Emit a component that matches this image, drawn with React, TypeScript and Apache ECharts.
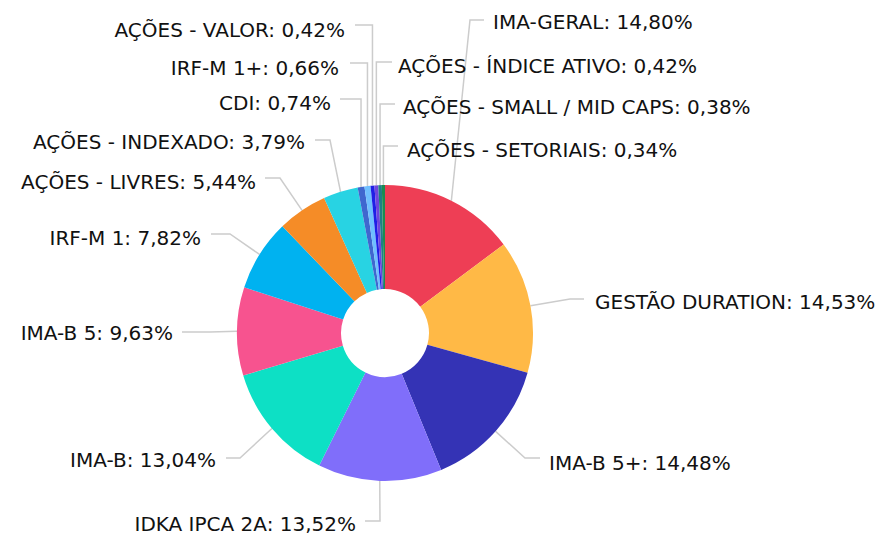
import React, { useEffect, useRef } from 'react';
import * as echarts from 'echarts';

const categories = [
  'IMA-GERAL',
  'GESTÃO DURATION',
  'IMA-B 5+',
  'IDKA IPCA 2A',
  'IMA-B',
  'IMA-B 5',
  'IRF-M 1',
  'AÇÕES - LIVRES',
  'AÇÕES - INDEXADO',
  'CDI',
  'IRF-M 1+',
  'AÇÕES - VALOR',
  'AÇÕES - ÍNDICE ATIVO',
  'AÇÕES - SMALL / MID CAPS',
  'AÇÕES - SETORIAIS',
];

const values = [14.8, 14.53, 14.48, 13.52, 13.04, 9.63, 7.82, 5.44, 3.79, 0.74, 0.66, 0.42, 0.42, 0.38, 0.34];

const colors = [
  '#EE3E55', '#FFB946', '#3433B5', '#806EFA', '#0DE0C5', '#F7538F', '#00B2F0',
  '#F58C27', '#28D3E3', '#3F67CF', '#6FBFFF', '#1F1FE6', '#6E45DD', '#1E7F86', '#1B8C50',
];

// label placement (layout only): side, elbow, line end, text anchor
const labelSpots: { side: 'left' | 'right'; ex: number | null; ey: number; lx: number; tx: number; ty: number }[] = [
  { side: 'right', ex: 470, ey: 20, lx: 484, tx: 493, ty: 22 },
  { side: 'right', ex: 570, ey: 299, lx: 584, tx: 595, ty: 302 },
  { side: 'right', ex: 525, ey: 458, lx: 540, tx: 549, ty: 463 },
  { side: 'left', ex: 380, ey: 521, lx: 365, tx: 356, ty: 524 },
  { side: 'left', ex: 240, ey: 458, lx: 226, tx: 216, ty: 460 },
  { side: 'left', ex: 210, ey: 332, lx: 182, tx: 173, ty: 333 },
  { side: 'left', ex: 230, ey: 234, lx: 211, tx: 201, ty: 238 },
  { side: 'left', ex: 280, ey: 178, lx: 265, tx: 256, ty: 182 },
  { side: 'left', ex: 330, ey: 140, lx: 315, tx: 305, ty: 142 },
  { side: 'left', ex: null, ey: 99, lx: 340, tx: 331, ty: 103 },
  { side: 'left', ex: null, ey: 63, lx: 350, tx: 339, ty: 68 },
  { side: 'left', ex: null, ey: 25, lx: 355, tx: 345, ty: 30 },
  { side: 'right', ex: null, ey: 62, lx: 392, tx: 398, ty: 66 },
  { side: 'right', ex: null, ey: 104, lx: 395, tx: 403, ty: 107 },
  { side: 'right', ex: null, ey: 146, lx: 398, tx: 407, ty: 150 },
];

const CX = 385;
const CY = 333;
const R_IN = 44;
const R_OUT = 148;

export default function App() {
  const ref = useRef<HTMLDivElement>(null);
  useEffect(() => {
    if (!ref.current) return;
    const chart = echarts.init(ref.current, undefined, { renderer: 'svg' });
    const total = values.reduce((a, b) => a + b, 0);
    const mids: number[] = [];
    let cum = 0;
    values.forEach((v) => {
      mids.push(((cum + v / 2) / total) * Math.PI * 2);
      cum += v;
    });
    chart.setOption({
      animation: false,
      backgroundColor: '#ffffff',
      series: [
        {
          type: 'pie',
          center: [CX, CY],
          radius: [R_IN, R_OUT],
          startAngle: 90,
          clockwise: true,
          avoidLabelOverlap: false,
          itemStyle: { borderWidth: 0 },
          data: categories.map((name, i) => ({
            name,
            value: values[i],
            itemStyle: { color: colors[i] },
          })),
          label: {
            show: true,
            position: 'outer',
            alignTo: 'none',
            fontFamily: 'DejaVu Sans',
            fontSize: 20,
            color: '#111111',
            formatter: (p: any) => `${p.name}: ${p.value.toFixed(2).replace('.', ',')}%`,
          },
          labelLine: {
            show: true,
            length: 10,
            length2: 10,
            lineStyle: { color: '#cccccc', width: 1.5 },
          },
          labelLayout: (params: any) => {
            const i = params.dataIndex;
            const s = labelSpots[i];
            const a = mids[i];
            const px = CX + R_OUT * Math.sin(a);
            const py = CY - R_OUT * Math.cos(a);
            const ex = s.ex === null ? px : s.ex;
            return {
              x: s.tx,
              y: s.ty,
              align: s.side === 'right' ? 'left' : 'right',
              verticalAlign: 'middle',
              labelLinePoints: [
                [px, py],
                [ex, s.ey],
                [s.lx, s.ey],
              ],
            };
          },
        },
      ],
    });
    return () => chart.dispose();
  }, []);
  return (
    <div
      ref={ref}
      style={{ position: 'absolute', left: 0, top: 0, width: 883, height: 536 }}
    />
  );
}
